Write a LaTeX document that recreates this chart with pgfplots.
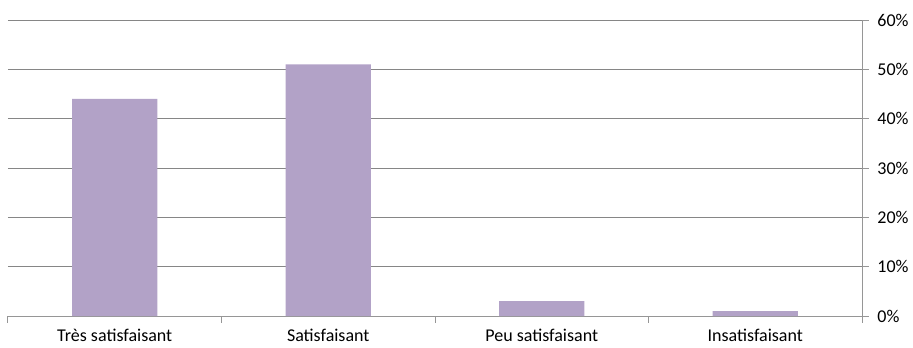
\documentclass[border=0pt]{standalone}
\usepackage{pgfplots}
\pgfplotsset{compat=1.18}
\usepackage{fontspec}
\setmainfont{Carlito}
\definecolor{barfill}{RGB}{178,162,199}
\definecolor{gridc}{RGB}{134,134,134}
\definecolor{axisc}{RGB}{150,150,150}
\begin{document}
\begin{tikzpicture}
\begin{axis}[
  scale only axis,
  width=640.5pt, height=222pt,
  xmin=0, xmax=4,
  ymin=0, ymax=60,
  axis x line*=bottom,
  axis y line*=right,
  axis line style={draw=axisc, line width=0.75pt},
  xtick={0,1,2,3,4},
  x tick label as interval,
  xticklabels={Très satisfaisant,Satisfaisant,Peu satisfaisant,Insatisfaisant},
  ytick={0,10,20,30,40,50,60},
  yticklabel={\pgfmathprintnumber{\tick}\%},
  /pgf/number format/assume math mode=true,
  tick align=outside,
  major tick length=5pt,
  tick style={draw=axisc, line width=0.75pt},
  ymajorgrids,
  major grid style={draw=gridc, line width=0.75pt},
  tick label style={font=\fontsize{13.5}{15}\selectfont, text=black},
  yticklabel style={xshift=3pt},
  xticklabel style={yshift=-1pt},
  enlargelimits=false,
  clip=false,
]
\addplot[ybar, bar width=0.4, fill=barfill, draw=none] coordinates {
  (0.5,44) (1.5,51) (2.5,3) (3.5,1)
};
\end{axis}
\path ([xshift=-6pt,yshift=-23.25pt]0,0) rectangle ([xshift=38.25pt,yshift=15pt]640.5pt,222pt);
\end{tikzpicture}
\end{document}
